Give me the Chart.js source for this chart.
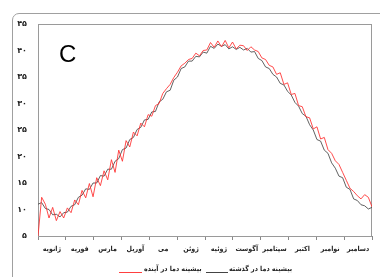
<!DOCTYPE html>
<html>
<head>
<meta charset="utf-8">
<script src="https://cdn.jsdelivr.net/npm/chart.js@4"></script>
<style>
  body { margin: 0; background: #fff; }
  #wrap { position: relative; width: 380px; height: 277px; overflow: hidden; }
  #frame { position: absolute; left: 12px; top: 13px; width: 400px; height: 300px;
           border: 1px solid #a0a0a0; border-radius: 7px; box-sizing: border-box; }
  #panel { position: absolute; left: 59px; top: 40px; font: 24px "Liberation Sans", Arial, sans-serif; color: #000; }
  .leg { position: absolute; font: bold 7px "DejaVu Sans Condensed", "DejaVu Sans", sans-serif; color: #222; direction: rtl; white-space: nowrap; }
  .swatch { position: absolute; height: 1px; }
</style>
</head>
<body>
<div id="wrap">
  <div id="frame"></div>
  <canvas id="tempChart" width="380" height="277"></canvas>
  <div id="panel">C</div>
  <div class="swatch" style="left:119px; top:272px; width:23px; background:#ff4040;"></div>
  <div class="leg" style="left:144px; top:265px;">بیشینه دما در آینده</div>
  <div class="swatch" style="left:206px; top:272px; width:22px; background:#444;"></div>
  <div class="leg" style="left:229px; top:265px;">بیشینه دما در گذشته</div>
</div>
<script>
// months along the bottom axis (left = January)
const months = ['ژانویه', 'فوریه', 'مارس', 'آوریل', 'می', 'ژوئن', 'ژوئیه', 'آگوست', 'سپتامبر', 'اکتبر', 'نوامبر', 'دسامبر'];

// one reading every 4 days
const dayStep = 4;

// maximum temperature, past (grey line)
const pastMax = [
  11.0, 11.3, 10.2, 10.0, 9.0, 9.1, 8.6, 9.4, 9.5, 10.6,
  10.9, 12.3, 12.7, 13.9, 13.8, 15.0, 15.0, 16.4, 16.3, 17.6,
  17.6, 19.1, 19.6, 21.3, 21.6, 23.2, 23.6, 25.1, 25.5, 26.9,
  27.0, 28.4, 28.5, 30.3, 30.8, 32.2, 32.5, 34.4, 35.0, 36.6,
  36.9, 38.0, 38.0, 38.9, 38.8, 39.7, 39.5, 40.8, 40.4, 41.2,
  40.8, 41.1, 40.3, 40.7, 40.2, 40.6, 40.1, 40.4, 39.7, 39.8,
  38.5, 38.1, 36.9, 36.6, 35.5, 35.0, 33.8, 33.5, 32.3, 31.6,
  30.2, 29.5, 28.1, 27.6, 26.0, 25.0, 23.2, 22.9, 21.2, 20.6,
  18.8, 17.8, 16.3, 16.0, 14.2, 13.8, 12.0, 11.7, 10.9, 10.7,
  10.1, 10.4
];

// maximum temperature, future (red line)
const futureMax = [
  5.0, 12.3, 11.0, 8.4, 10.4, 7.9, 9.6, 8.4, 10.3, 9.4,
  11.8, 10.9, 13.6, 12.2, 14.9, 12.4, 16.0, 14.5, 17.3, 15.6,
  19.4, 17.0, 21.2, 19.1, 23.0, 21.8, 24.6, 23.9, 26.3, 25.6,
  27.9, 27.6, 29.6, 30.0, 31.9, 32.8, 33.6, 34.9, 35.9, 37.1,
  37.6, 38.3, 38.5, 39.5, 39.0, 40.0, 40.1, 41.5, 40.6, 41.8,
  40.7, 41.9, 40.5, 41.6, 40.3, 41.0, 40.9, 40.0, 40.7, 40.1,
  39.8, 38.6, 38.3, 37.2, 36.9, 35.5, 35.8, 33.6, 33.9, 31.7,
  31.9, 29.6, 29.4, 27.5, 27.3, 25.2, 25.6, 23.3, 23.6, 21.3,
  20.6, 19.2, 18.5, 17.0, 15.5, 14.0, 13.4, 12.6, 12.0, 12.8,
  12.3, 10.5
];

// y tick labels in Persian digits
const yTickLabels = { 5: '۵', 10: '۱۰', 15: '۱۵', 20: '۲۰', 25: '۲۵', 30: '۳۰', 35: '۳۵', 40: '۴۰', 45: '۴۵' };

const toPoints = arr => arr.map((v, i) => ({ x: i * dayStep, y: v }));

// grey box round the plot area
const plotFrame = {
  id: 'plotFrame',
  beforeDatasetsDraw(chart) {
    const { ctx, chartArea: a } = chart;
    ctx.save();
    ctx.strokeStyle = '#9a9a9a';
    ctx.lineWidth = 1;
    ctx.strokeRect(a.left + 0.5, a.top + 0.5, a.right - a.left - 1, a.bottom - a.top);
    ctx.restore();
  }
};

const axisFont = { family: '"DejaVu Sans Condensed", "DejaVu Sans", sans-serif', size: 7, weight: 'bold' };

new Chart(document.getElementById('tempChart'), {
  type: 'line',
  data: {
    datasets: [
      {
        label: 'بیشینه دما در آینده',
        data: toPoints(futureMax),
        xAxisID: 'xd',
        borderColor: 'rgba(255,45,45,0.85)',
        borderWidth: 1,
        pointRadius: 0,
        tension: 0,
        order: 0
      },
      {
        label: 'بیشینه دما در گذشته',
        data: toPoints(pastMax),
        xAxisID: 'xd',
        borderColor: 'rgba(70,70,70,0.85)',
        borderWidth: 1,
        pointRadius: 0,
        tension: 0,
        order: 1
      }
    ]
  },
  options: {
    responsive: false,
    animation: false,
    layout: { padding: { left: 0, top: 24, right: 8, bottom: 21 } },
    plugins: {
      legend: { display: false },
      tooltip: { enabled: false }
    },
    scales: {
      x: {
        type: 'category',
        labels: months,
        offset: true,
        grid: { offset: true, drawOnChartArea: false, tickLength: 4, color: '#888' },
        border: { display: false },
        ticks: { color: '#222', font: axisFont, padding: 5, maxRotation: 0, autoSkip: false },
        afterFit(axis) { axis.height = 20; }
      },
      xd: {
        type: 'linear',
        display: false,
        min: 0,
        max: 364
      },
      y: {
        min: 5,
        max: 45,
        grid: { display: false, drawTicks: false },
        border: { display: false },
        ticks: {
          stepSize: 5,
          padding: 11,
          color: '#222',
          font: { family: '"DejaVu Sans", sans-serif', size: 8, weight: 'bold' },
          callback: v => yTickLabels[v]
        },
        afterFit(axis) { axis.width = 38; }
      }
    }
  },
  plugins: [plotFrame]
});
</script>
</body>
</html>
